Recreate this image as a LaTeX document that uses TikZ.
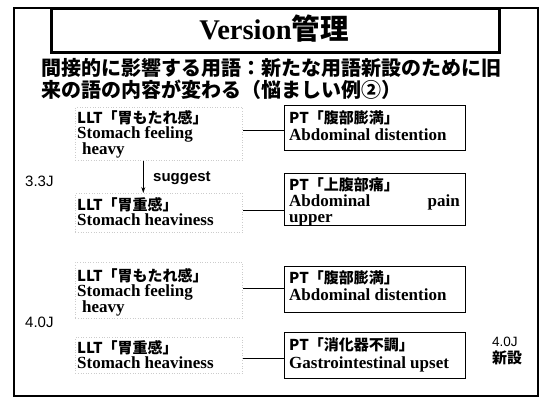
\documentclass[tikz,border=0pt]{standalone}
\usepackage{fontspec}
\setmainfont{Liberation Serif}
\setsansfont{Liberation Sans}
\newfontfamily\jp{Noto Sans CJK JP}
\usetikzlibrary{arrows.meta}
\begin{document}
\begin{tikzpicture}[x=1pt,y=-1pt,
  sub/.style={anchor=west,inner sep=0,font=\jp\bfseries\fontsize{20}{20}\selectfont},
  jl/.style={anchor=west,inner sep=0,text height=12pt,text depth=2pt,font=\jp\bfseries\fontsize{15}{15}\selectfont},
  en/.style={anchor=west,inner sep=0,text height=11.5pt,text depth=3.5pt,font=\bfseries\fontsize{17}{17}\selectfont},
  lab/.style={anchor=west,inner sep=0,font=\sffamily\fontsize{15}{15}\selectfont},
  txtbox/.style={draw=gray!40,dotted,line width=0.6pt,anchor=north west,inner sep=0},
  ptbox/.style={draw,line width=0.9pt,anchor=north west,inner sep=0},
  link/.style={line width=0.9pt}]
\path[use as bounding box] (0,0) rectangle (546,399);
\node[draw,line width=1.6pt,anchor=north west,inner sep=0,minimum width=524pt,minimum height=388pt] (frame) at (13,7) {};
\node[draw,line width=2.6pt,anchor=north west,inner sep=0,minimum width=448pt,minimum height=44pt] (titlebox) at (50,7) {};
\node[inner sep=0,font=\bfseries\fontsize{28.5}{28.5}\selectfont] (title) at (274,29) {Version{\jp\bfseries 管理}};
\node[sub] (sub1) at (41,68) {間接的に影響する用語：新たな用語新設のために旧};
\node[sub] (sub2) at (41,90) {来の語の内容が変わる（悩ましい例②）};
% LLT boxes
\node[txtbox,minimum width=167pt,minimum height=53pt] (llt1) at (75,107) {};
\node[jl] (llt1a) at (77,118) {LLT「胃もたれ感」};
\node[en] (llt1b) at (77,134) {Stomach feeling};
\node[en] (llt1c) at (82,150) {heavy};
\node[txtbox,minimum width=167pt,minimum height=39pt] (llt2) at (75,193) {};
\node[jl] (llt2a) at (77,205) {LLT「胃重感」};
\node[en] (llt2b) at (77,221) {Stomach heaviness};
\node[txtbox,minimum width=167pt,minimum height=56pt] (llt3) at (75,262) {};
\node[jl] (llt3a) at (77,276) {LLT「胃もたれ感」};
\node[en] (llt3b) at (77,292) {Stomach feeling};
\node[en] (llt3c) at (82,308) {heavy};
\node[txtbox,minimum width=167pt,minimum height=36pt] (llt4) at (75,337) {};
\node[jl] (llt4a) at (77,348) {LLT「胃重感」};
\node[en] (llt4b) at (77,364) {Stomach heaviness};
% PT boxes
\node[ptbox,minimum width=181pt,minimum height=45pt] (pt1) at (284,105) {};
\node[jl] (pt1a) at (289,118) {PT「腹部膨満」};
\node[en] (pt1b) at (289,136) {Abdominal distention};
\node[ptbox,minimum width=181pt,minimum height=52pt] (pt2) at (284,173) {};
\node[jl] (pt2a) at (289,185) {PT「上腹部痛」};
\node[en] (pt2b) at (289,202) {Abdominal};
\node[en,anchor=east] (pt2c) at (460,202) {pain};
\node[en] (pt2d) at (289,218) {upper};
\node[ptbox,minimum width=181pt,minimum height=46pt] (pt3) at (284,266) {};
\node[jl] (pt3a) at (289,278) {PT「腹部膨満」};
\node[en] (pt3b) at (289,296) {Abdominal distention};
\node[ptbox,minimum width=181pt,minimum height=46pt] (pt4) at (284,332) {};
\node[jl] (pt4a) at (289,345) {PT「消化器不調」};
\node[en] (pt4b) at (289,364) {Gastrointestinal upset};
% labels
\node[lab] (v33) at (25,181) {3.3J};
\node[lab] (v40) at (25,322) {4.0J};
\node[lab,font=\sffamily\bfseries\fontsize{15}{15}\selectfont] (sugg) at (153,178) {suggest};
\node[lab,font=\sffamily\fontsize{13.5}{13.5}\selectfont] (new1) at (492,342) {4.0J};
\node[anchor=west,inner sep=0,font=\jp\bfseries\fontsize{15}{15}\selectfont] (new2) at (492,358) {新設};
% connectors
\draw[link] ([yshift=-2.5pt]pt1.west) -- ([yshift=-2.5pt]pt1.west -| llt1.east);
\draw[link] ([yshift=-11pt]pt2.west) -- ([yshift=-11pt]pt2.west -| llt2.east);
\draw[link] ([yshift=1pt]pt3.west) -- ([yshift=1pt]pt3.west -| llt3.east);
\draw[link] ([yshift=-3pt]pt4.west) -- ([yshift=-3pt]pt4.west -| llt4.east);
\draw[line width=1pt,-{Stealth[length=6pt,width=4pt]}] ([xshift=-15.5pt]llt1.south) -- ([xshift=-15.5pt]llt2.north);
\end{tikzpicture}
\end{document}
